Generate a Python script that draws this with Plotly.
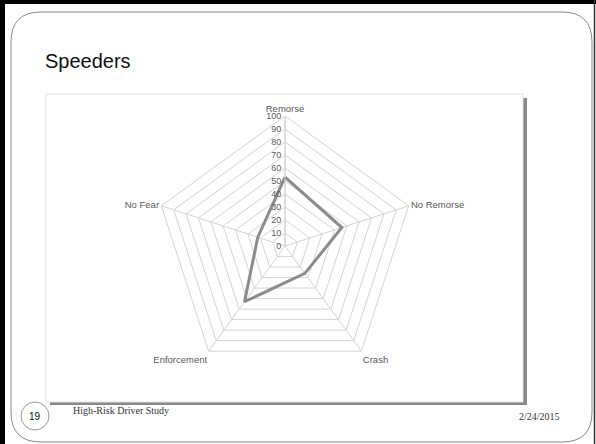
import plotly.graph_objects as go

# Survey dimensions and the speeders' scores (percent)
categories = ["Remorse", "No Remorse", "Crash", "Enforcement", "No Fear"]
speeders = [53, 46, 26, 53, 22]
radial_ticks = [0, 10, 20, 30, 40, 50, 60, 70, 80, 90, 100]

W, H = 596, 444


def px(x):
    return x / W


def py(y):
    return 1 - y / H


fig = go.Figure()

fig.add_trace(go.Scatterpolar(
    r=speeders + speeders[:1],
    theta=categories + categories[:1],
    mode="lines",
    line=dict(color="#8c8c8c", width=3),
    hoverinfo="r+theta",
    showlegend=False,
))

# Pixel-based placement for the radar: centre (285, 246), radius 130
cx, cy, R = 285, 246, 130

label_font = dict(family="Liberation Sans Narrow, Liberation Sans, Arial", size=9.5, color="#595959")

fig.update_layout(
    width=W,
    height=H,
    margin=dict(l=0, r=0, t=0, b=0),
    paper_bgcolor="white",
    plot_bgcolor="white",
    polar=dict(
        domain=dict(x=[px(cx - R), px(cx + R)], y=[py(cy + R), py(cy - R)]),
        bgcolor="rgba(0,0,0,0)",
        gridshape="linear",
        radialaxis=dict(
            range=[0, 100],
            tickvals=radial_ticks,
            ticktext=[str(t) for t in radial_ticks],
            angle=90,
            tickangle=90,
            side="counterclockwise",
            ticks="",
            showline=True,
            linecolor="#d4d4d4",
            linewidth=1,
            gridcolor="#d4d4d4",
            gridwidth=1,
            tickfont=dict(family="Liberation Sans Narrow, Liberation Sans, Arial", size=9, color="#595959"),
        ),
        angularaxis=dict(
            rotation=90,
            direction="clockwise",
            ticks="",
            showline=True,
            linecolor="#d4d4d4",
            linewidth=1,
            gridcolor="#d4d4d4",
            gridwidth=1,
            tickfont=label_font,
        ),
    ),
)

shapes = []

# Slide frame: heavy dark edges and a rounded inner border
shapes.append(dict(type="rect", xref="paper", yref="paper",
                   x0=px(0), x1=px(5), y0=py(444), y1=py(0),
                   fillcolor="black", line=dict(width=0), layer="below"))
shapes.append(dict(type="rect", xref="paper", yref="paper",
                   x0=px(0), x1=px(596), y0=py(4), y1=py(0),
                   fillcolor="black", line=dict(width=0), layer="below"))
shapes.append(dict(type="line", xref="paper", yref="paper",
                   x0=px(594.5), x1=px(594.5), y0=py(0), y1=py(444),
                   line=dict(color="#333333", width=1.5)))

rx0, ry0, rx1, ry1, rr = 11, 12, 592, 442, 30
path = (
    f"M {px(rx0 + rr)} {py(ry0)} L {px(rx1 - rr)} {py(ry0)} "
    f"Q {px(rx1)} {py(ry0)} {px(rx1)} {py(ry0 + rr)} "
    f"L {px(rx1)} {py(ry1 - rr)} Q {px(rx1)} {py(ry1)} {px(rx1 - rr)} {py(ry1)} "
    f"L {px(rx0 + rr)} {py(ry1)} Q {px(rx0)} {py(ry1)} {px(rx0)} {py(ry1 - rr)} "
    f"L {px(rx0)} {py(ry0 + rr)} Q {px(rx0)} {py(ry0)} {px(rx0 + rr)} {py(ry0)} Z"
)
shapes.append(dict(type="path", xref="paper", yref="paper", path=path,
                   line=dict(color="#8a8a8a", width=1), layer="below"))

# Chart area box with its drop shadow
shapes.append(dict(type="rect", xref="paper", yref="paper",
                   x0=px(50), x1=px(527), y0=py(405), y1=py(98),
                   fillcolor="#8a8a8a", line=dict(width=0), layer="below"))
shapes.append(dict(type="rect", xref="paper", yref="paper",
                   x0=px(46), x1=px(523), y0=py(402), y1=py(94),
                   fillcolor="white", line=dict(color="#e0e0e0", width=1), layer="below"))

# Slide number badge
shapes.append(dict(type="circle", xref="paper", yref="paper",
                   x0=px(21), x1=px(49), y0=py(430), y1=py(402),
                   line=dict(color="#9a9a9a", width=1), fillcolor="white"))

fig.update_layout(shapes=shapes)

annotations = [
    dict(text="Speeders", x=px(43), y=py(61), xanchor="left", yanchor="middle",
         font=dict(family="Liberation Sans, Arial", size=20, color="#111111")),
    dict(text="19", x=px(35), y=py(416), xanchor="center", yanchor="middle",
         font=dict(family="Liberation Sans, Arial", size=10, color="#111111")),
    dict(text="High-Risk Driver Study", x=px(71), y=py(410), xanchor="left", yanchor="middle",
         font=dict(family="Liberation Serif, Times New Roman, serif", size=10, color="#333333")),
    dict(text="2/24/2015", x=px(562), y=py(416), xanchor="right", yanchor="middle",
         font=dict(family="Liberation Serif, Times New Roman, serif", size=10, color="#333333")),
]
for a in annotations:
    a.update(xref="paper", yref="paper", showarrow=False)
fig.update_layout(annotations=annotations)

fig.write_html("out.html")
